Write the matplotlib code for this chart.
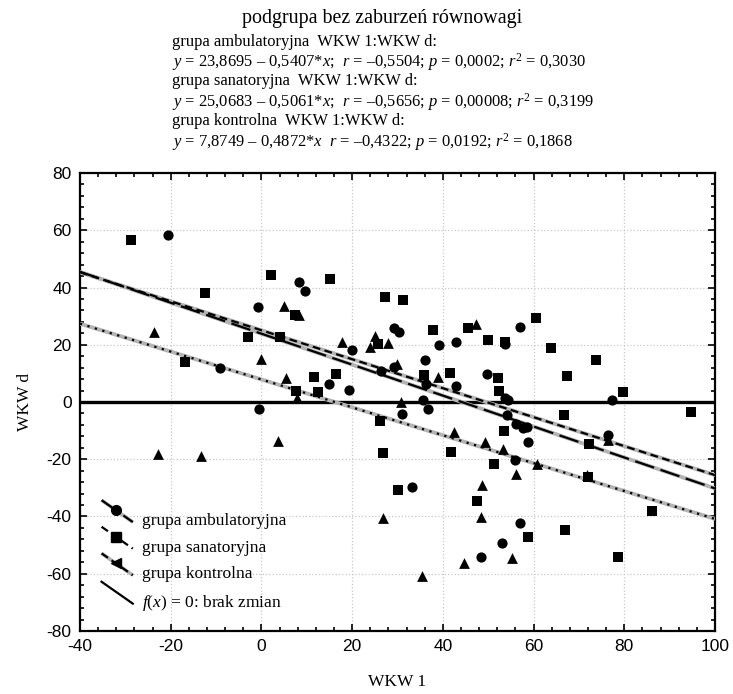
import numpy as np
import matplotlib
matplotlib.use("Agg")
import matplotlib.pyplot as plt
from matplotlib.lines import Line2D
from matplotlib.legend_handler import HandlerBase
from matplotlib.ticker import MultipleLocator

plt.rcParams["axes.unicode_minus"] = False
plt.rcParams["mathtext.fontset"] = "custom"
plt.rcParams["mathtext.rm"] = "Liberation Serif"
plt.rcParams["mathtext.it"] = "Liberation Serif:italic"

# --- data (WKW 1 vs WKW d) ---
amb_x = [-20.6, 8.2, 9.6, -0.7, -9.1, -0.5, 29.3, 30.3, 57.0, 53.8, 20.0, 39.2, 42.8,
         36.1, 29.2, 14.9, 19.3, 26.4, 36.3, 42.8, 49.7, 53.7, 54.4, 35.7, 30.9, 36.7,
         54.2, 56.1, 55.9, 33.3, 77.2, 57.7, 58.5, 58.7, 76.4, 56.9, 53.0, 48.3]
amb_y = [58.4, 42.0, 38.8, 33.3, 12.0, -2.3, 26.0, 24.6, 26.1, 20.2, 18.1, 20.0, 21.0,
         14.6, 12.3, 6.2, 4.3, 10.8, 6.2, 5.5, 9.7, 1.3, 0.8, 0.6, -4.1, -2.4,
         -4.7, -7.8, -20.3, -29.6, 0.7, -9.0, -8.6, -13.9, -11.5, -42.2, -49.4, -54.0]

san_x = [-28.7, 2.1, -12.5, 7.3, -2.9, 4.1, -16.8, 7.6, 15.1, 27.2, 31.2, 37.9, 45.6,
         49.9, 53.6, 25.6, 11.5, 16.4, 12.5, 35.8, 41.5, 52.1, 52.4, 26.1, 53.5, 26.9,
         41.8, 51.3, 30.2, 60.5, 63.8, 73.7, 67.3, 79.7, 94.7, 66.8, 72.2, 72.1, 47.6,
         86.2, 58.7, 67.0, 78.7]
san_y = [56.7, 44.4, 38.1, 30.5, 22.7, 22.8, 13.9, 3.8, 42.9, 36.8, 35.6, 25.1, 25.8,
         21.8, 20.9, 20.4, 8.8, 9.9, 3.5, 9.5, 10.1, 8.5, 3.8, -6.7, -10.0, -17.9,
         -17.4, -21.8, -30.8, 29.3, 19.0, 14.7, 9.0, 3.6, -3.5, -4.4, -14.8, -26.2, -34.7,
         -38.2, -47.3, -44.7, -54.0]

kon_x = [4.9, 8.2, -23.6, -0.1, 5.4, 7.8, 3.6, -22.8, -13.3, 47.4, 17.8, 25.0, 23.9,
         27.8, 29.9, 38.9, 30.7, 42.4, 49.3, 53.3, 56.1, 48.6, 60.7, 76.4, 71.8, 26.9,
         35.3, 48.3, 44.6, 55.3]
kon_y = [33.6, 30.5, 24.6, 14.9, 8.5, 1.5, -13.5, -18.3, -18.9, 27.2, 21.1, 23.2, 19.3,
         20.6, 13.4, 8.6, 0.1, -10.6, -14.0, -16.4, -25.3, -29.0, -21.7, -13.3, -25.5, -40.7,
         -60.7, -40.1, -56.3, -54.4]

# regression coefficients (intercept, slope) from the header
fits = {"amb": (23.8695, -0.5407), "san": (25.0683, -0.5061), "kon": (7.8749, -0.4872)}

names = ["grupa ambulatoryjna", "grupa sanatoryjna", "grupa kontrolna",
         "$f(x)$ = 0: brak zmian"]

header = [
    "grupa ambulatoryjna  WKW 1:WKW d:",
    "$y$ = 23,8695 – 0,5407*$x$;  $r$ = –0,5504; $p$ = 0,0002; $r^2$ = 0,3030",
    "grupa sanatoryjna  WKW 1:WKW d:",
    "$y$ = 25,0683 – 0,5061*$x$;  $r$ = –0,5656; $p$ = 0,00008; $r^2$ = 0,3199",
    "grupa kontrolna  WKW 1:WKW d:",
    "$y$ = 7,8749 – 0,4872*$x$  $r$ = –0,4322; $p$ = 0,0192; $r^2$ = 0,1868",
]

GREY = "#b4b4b4"
styles = {
    "amb": dict(dashes=(9, 3)),
    "san": dict(dashes=(3.5, 2)),
    "kon": dict(dashes=(1, 2.5)),
}


class DiagHandler(HandlerBase):
    """legend handle drawn as a falling diagonal line, Statistica style"""

    def __init__(self, dash=None, marker=None, grey=True):
        super().__init__()
        self.dash = dash
        self.marker = marker
        self.grey = grey

    def create_artists(self, legend, orig_handle, xdescent, ydescent,
                       width, height, fontsize, trans):
        x0, x1 = -xdescent, -xdescent + width
        y0, y1 = -ydescent + height * 2.05, -ydescent + height * 0.25
        arts = []
        if self.grey:
            arts.append(Line2D([x0, x1], [y0, y1], color=GREY, lw=2.6,
                               solid_capstyle="butt", transform=trans))
        ln = Line2D([x0, x1], [y0, y1], color="black", lw=1.6, transform=trans)
        if self.dash is not None:
            ln.set_dashes(self.dash)
        arts.append(ln)
        if self.marker:
            xm = x0 + (x1 - x0) * 0.45
            ym = y0 + (y1 - y0) * 0.45
            arts.append(Line2D([xm], [ym], marker=self.marker, color="black", ms=7,
                               ls="none", transform=trans))
        return arts


fig = plt.figure(figsize=(7.33, 6.94), dpi=100)
ax = fig.add_axes([0.1091, 0.0908, 0.8664, 0.6599])

xs = np.array([-40, 100])
for key in ["kon", "san", "amb"]:
    b0, b1 = fits[key]
    ax.plot(xs, b0 + b1 * xs, color=GREY, lw=2.8, solid_capstyle="butt", zorder=3)
    ax.plot(xs, b0 + b1 * xs, color="black", lw=1.6, zorder=4, **styles[key])

ax.axhline(0, color="black", lw=2.4, zorder=2)

ax.scatter(amb_x, amb_y, marker="o", s=54, color="black", zorder=5, linewidths=0)
ax.scatter(san_x, san_y, marker="s", s=52, color="black", zorder=5, linewidths=0)
ax.scatter(kon_x, kon_y, marker="^", s=60, color="black", zorder=5, linewidths=0)

ax.set_xlim(-40, 100)
ax.set_ylim(-80, 80)
ax.xaxis.set_major_locator(MultipleLocator(20))
ax.xaxis.set_minor_locator(MultipleLocator(4))
ax.yaxis.set_major_locator(MultipleLocator(20))
ax.yaxis.set_minor_locator(MultipleLocator(4))
ax.tick_params(which="both", direction="in", top=True, right=True, width=1.2,
               labelsize=12.5, labelfontfamily="Liberation Sans", colors="black")
ax.tick_params(which="major", length=5, pad=6)
ax.tick_params(which="minor", length=3)
ax.grid(True, which="major", color="#c8c8c8", ls=":", lw=0.9)
for sp in ax.spines.values():
    sp.set_linewidth(1.6)

ax.set_xlabel("WKW 1", family="Liberation Serif", fontsize=12.5, labelpad=14)
ax.set_ylabel("WKW d", family="Liberation Serif", fontsize=12.5, labelpad=10)

proxies = [Line2D([], []) for _ in names]
hmap = {
    proxies[0]: DiagHandler(dash=(9, 3), marker="o"),
    proxies[1]: DiagHandler(dash=(3.5, 2), marker="s", grey=False),
    proxies[2]: DiagHandler(dash=(3.5, 2), marker="<"),
    proxies[3]: DiagHandler(grey=False),
}
ax.legend(proxies, names, handler_map=hmap, loc="lower left",
          bbox_to_anchor=(0.034, 0.04), borderpad=0, borderaxespad=0,
          frameon=False, handlelength=1.8, handletextpad=0.55, labelspacing=0.6,
          prop={"family": "Liberation Serif", "size": 12.5})

fig.text(0.521, 0.973, "podgrupa bez zaburzeń równowagi", ha="center", va="center",
         family="Liberation Serif", fontsize=14.4)
ys = [42, 62, 81, 102, 121, 142]
for line, yp in zip(header, ys):
    fig.text(0.234, 1 - yp / 694, line, ha="left", va="center",
             family="Liberation Serif", fontsize=11.9)

fig.savefig("out.png", dpi=100)
